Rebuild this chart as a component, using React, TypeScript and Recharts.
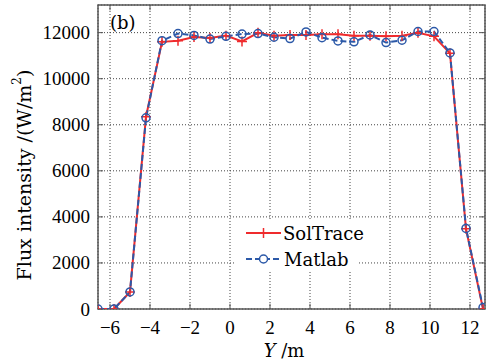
import { LineChart, Line, XAxis, YAxis, CartesianGrid, ReferenceLine, ReferenceArea, Legend, Label } from "recharts";

// receiver position Y (m)
const positions = [
  -6.6, -5.8, -5.0, -4.2, -3.4, -2.6, -1.8, -1.0, -0.2, 0.6, 1.4, 2.2, 3.0,
  3.8, 4.6, 5.4, 6.2, 7.0, 7.8, 8.6, 9.4, 10.2, 11.0, 11.8, 12.65,
];
const solTrace = [
  0, 0, 740, 8350, 11600, 11650, 11810, 11770, 11870, 11620, 11990, 11870, 11900,
  11900, 11930, 11930, 11870, 11870, 11840, 11870, 11990, 11840, 11100, 3480, 0,
];
const matlab = [
  0, 0, 740, 8300, 11650, 11960, 11880, 11720, 11840, 11940, 11960, 11800, 11740,
  12030, 11780, 11640, 11600, 11900, 11570, 11670, 12050, 12050, 11120, 3500, 60,
];
const xTicks = [-6, -4, -2, 0, 2, 4, 6, 8, 10, 12];
const yTicks = [0, 2000, 4000, 6000, 8000, 10000, 12000];

const X_MIN = -6.6;
const X_MAX = 12.75;
const Y_MAX = 13200;
const RED = "#ef2b2d";
const BLUE = "#2c59a8";
const FONT = "DejaVu Serif";
const TICK_FONT = "Liberation Serif";

const data = positions.map((y, i) => ({ y, solTrace: solTrace[i], matlab: matlab[i] }));

const fmt = (v: number) => String(v).replace("-", "\u2212");

function PlusDot(props: any) {
  const { cx, cy } = props;
  if (cx == null || cy == null) return <g />;
  return (
    <path
      d={`M${cx - 5},${cy}H${cx + 5}M${cx},${cy - 5}V${cy + 5}`}
      stroke={RED}
      strokeWidth={1.5}
      fill="none"
    />
  );
}

function XTick(props: any) {
  const { x, y, payload } = props;
  return (
    <text x={x} y={y} textAnchor="middle" dominantBaseline="central" fontSize={19} fontFamily={TICK_FONT} fill="#000">
      {fmt(payload.value)}
    </text>
  );
}

function YTick(props: any) {
  const { x, y, payload } = props;
  return (
    <text x={x} y={y} textAnchor="end" dominantBaseline="central" fontSize={19} fontFamily={TICK_FONT} fill="#000">
      {payload.value}
    </text>
  );
}

function renderLegend() {
  return (
    <svg width={135} height={52} style={{ display: "block", overflow: "visible" }}>
      <rect x={0} y={0} width={123} height={52} fill="#fff" />
      <line x1={12} x2={47} y1={14} y2={14} stroke={RED} strokeWidth={2} />
      <path d="M29.5,9V19" stroke={RED} strokeWidth={1.5} />
      <text x={49} y={14} dominantBaseline="central" fontSize={18} fontFamily={FONT} fill="#000">
        SolTrace
      </text>
      <line x1={12} x2={48} y1={40} y2={40} stroke={BLUE} strokeWidth={2} strokeDasharray="6 3" />
      <circle cx={29.5} cy={40} r={4} fill="#fff" stroke={BLUE} strokeWidth={1.5} />
      <text x={50} y={40} dominantBaseline="central" fontSize={18} fontFamily={FONT} fill="#000">
        Matlab
      </text>
    </svg>
  );
}

export default function App() {
  return (
    <div style={{ position: "absolute", left: 0, top: 0, background: "#fff" }}>
      <LineChart width={491} height={363} data={data} margin={{ top: 5, right: 6, left: 38, bottom: 24 }}>
        <CartesianGrid stroke="#444" strokeDasharray="1 2" />
        <XAxis
          dataKey="y"
          type="number"
          domain={[X_MIN, X_MAX]}
          ticks={xTicks}
          allowDataOverflow
          tick={<XTick />}
          tickLine={false}
          axisLine={false}
          tickSize={0}
          tickMargin={18}
          height={30}
        >
          <Label
            content={() => (
              <text x={284} y={350} textAnchor="middle" dominantBaseline="central" fontSize={18} fontFamily={FONT} fill="#000">
                <tspan fontStyle="italic">Y</tspan> /m
              </text>
            )}
          />
        </XAxis>
        <YAxis
          type="number"
          domain={[0, Y_MAX]}
          ticks={yTicks}
          allowDataOverflow
          tick={<YTick />}
          tickLine={false}
          axisLine={false}
          tickSize={0}
          tickMargin={8}
          width={60}
        >
          <Label
            content={() => (
              <g>
                <text
                  transform="translate(24,175) rotate(-90)"
                  textAnchor="middle"
                  dominantBaseline="central"
                  fontSize={19}
                  fontFamily={FONT}
                  fill="#000"
                >
                  Flux intensity /(W/m<tspan fontSize={12} dy={-7}>2</tspan>
                  <tspan dy={7}>)</tspan>
                </text>
                <text x={110} y={22} dominantBaseline="central" fontSize={18} fontFamily={FONT} fill="#000">
                  (b)
                </text>
              </g>
            )}
          />
        </YAxis>
        <ReferenceArea x1={X_MIN} x2={X_MAX} y1={0} y2={Y_MAX} fill="none" stroke="#555" strokeWidth={1.5} />
        {xTicks.map((t) => (
          <ReferenceLine key={`xb${t}`} segment={[{ x: t, y: 0 }, { x: t, y: 230 }]} stroke="#555" />
        ))}
        {xTicks.map((t) => (
          <ReferenceLine key={`xt${t}`} segment={[{ x: t, y: Y_MAX }, { x: t, y: Y_MAX - 230 }]} stroke="#555" />
        ))}
        {yTicks.map((t) => (
          <ReferenceLine key={`yl${t}`} segment={[{ x: X_MIN, y: t }, { x: X_MIN + 0.25, y: t }]} stroke="#555" />
        ))}
        {yTicks.map((t) => (
          <ReferenceLine key={`yr${t}`} segment={[{ x: X_MAX, y: t }, { x: X_MAX - 0.25, y: t }]} stroke="#555" />
        ))}
        <Line
          dataKey="solTrace"
          name="SolTrace"
          stroke={RED}
          strokeWidth={2}
          dot={<PlusDot />}
          activeDot={false}
          isAnimationActive={false}
        />
        <Line
          dataKey="matlab"
          name="Matlab"
          stroke={BLUE}
          strokeWidth={2}
          strokeDasharray="6 3"
          dot={{ r: 4, stroke: BLUE, strokeWidth: 1.5, fill: "none", strokeDasharray: "" }}
          activeDot={false}
          isAnimationActive={false}
        />
        <Legend
          layout="horizontal"
          verticalAlign="middle"
          align="center"
          content={renderLegend}
          wrapperStyle={{ left: 234, top: 219, width: 135, height: 52 }}
        />
      </LineChart>
    </div>
  );
}
